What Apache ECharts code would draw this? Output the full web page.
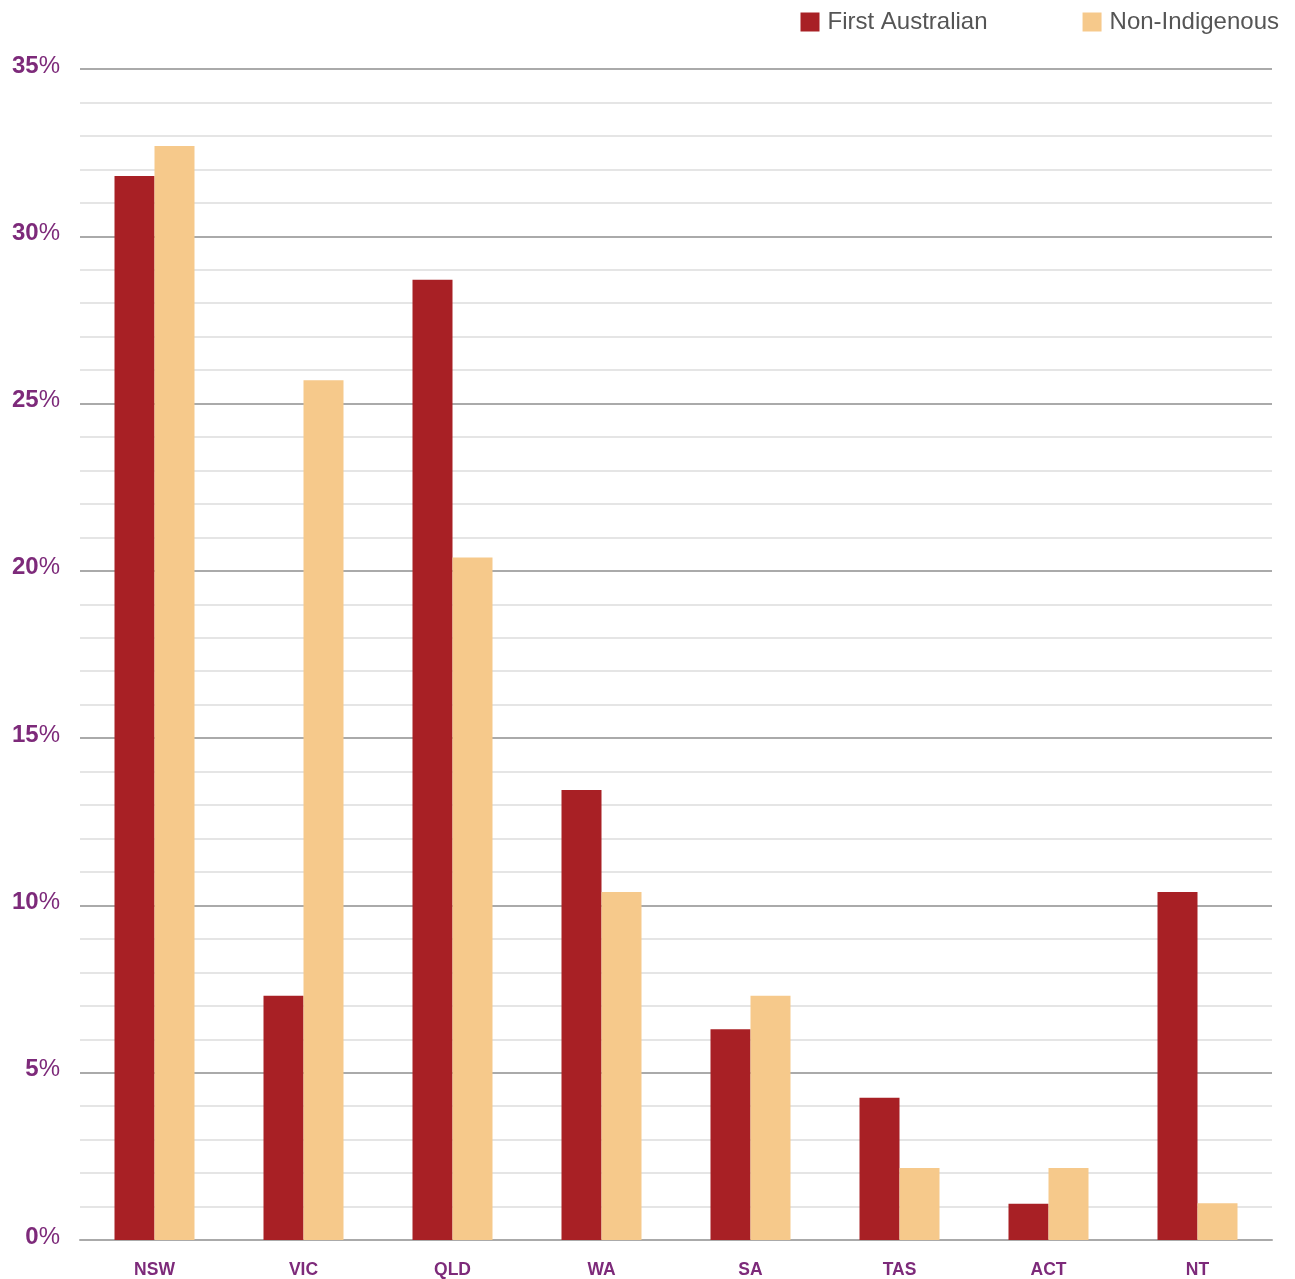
<!DOCTYPE html>
<html><head><meta charset="utf-8">
<script src="https://cdn.jsdelivr.net/npm/echarts@6/dist/echarts.min.js"></script>
<style>html,body{margin:0;padding:0;background:#fff}#c{width:1295px;height:1279px}</style>
</head><body><div id="c"></div>
<script>
const categories = ['NSW','VIC','QLD','WA','SA','TAS','ACT','NT'];
const firstAustralian = [31.8, 7.3, 28.7, 13.45, 6.3, 4.25, 1.08, 10.4];
const nonIndigenous = [32.7, 25.7, 20.4, 10.4, 7.3, 2.15, 2.15, 1.1];
const seriesNames = ['First Australian','Non-Indigenous'];

const chart = echarts.init(document.getElementById('c'));
const purple = '#7d2a7a';
const ff = 'Liberation Sans, Arial, sans-serif';
chart.setOption({
  animation:false,
  textStyle:{fontFamily:ff},
  legend:{
    top:5, right:11, itemWidth:19, itemHeight:19, itemGap:95,
    icon:'rect',
    textStyle:{fontSize:24, color:'#555', fontFamily:ff, padding:[0,0,0,3]},
    data:seriesNames
  },
  grid:{left:80, right:23, top:69, bottom:39, containLabel:false},
  xAxis:{
    type:'category', data:categories,
    axisLine:{show:true, lineStyle:{color:'#aaa', width:2}},
    axisTick:{show:false},
    axisLabel:{color:purple, fontSize:17.5, fontWeight:'bold', margin:21}
  },
  yAxis:{
    type:'value', min:0, max:35, interval:5,
    axisLine:{show:false}, axisTick:{show:false},
    axisLabel:{
      margin:20, verticalAlign:'middle', padding:[0,0,6,0],
      formatter:v=>'{n|'+v+'}{p|%}',
      rich:{
        n:{color:purple, fontSize:24, fontWeight:'bold', fontFamily:ff},
        p:{color:purple, fontSize:24, fontFamily:ff}
      }
    },
    splitLine:{show:true, lineStyle:{color:'#aaa', width:2}},
    minorTick:{show:false, splitNumber:5},
    minorSplitLine:{show:true, lineStyle:{color:'#ddd', width:1.5}}
  },
  series:[
    {name:seriesNames[0], type:'bar', data:firstAustralian, barWidth:40, barGap:'0%', itemStyle:{color:'#a82025'}},
    {name:seriesNames[1], type:'bar', data:nonIndigenous, barWidth:40, barGap:'0%', itemStyle:{color:'#f6c98b'}}
  ]
});
</script></body></html>
